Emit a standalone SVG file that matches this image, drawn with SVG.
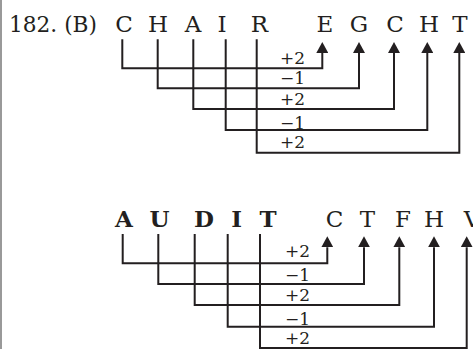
<svg xmlns="http://www.w3.org/2000/svg" width="473" height="349" viewBox="0 0 473 349">
<style>
.t{font-family:"DejaVu Serif","Liberation Serif",serif;font-size:23px;fill:#231f20}
.b{font-family:"DejaVu Serif","Liberation Serif",serif;font-size:23px;font-weight:bold;fill:#231f20}
.l{font-family:"DejaVu Serif","Liberation Serif",serif;font-size:17px;fill:#231f20}
.c{fill:none;stroke:#231f20;stroke-width:2;marker-end:url(#ah)}
</style>
<defs>
<marker id="ah" viewBox="0 0 11 12" refX="0" refY="6" markerWidth="11" markerHeight="12" markerUnits="userSpaceOnUse" orient="auto">
<path d="M0,0 L11,6 L0,12 z" fill="#231f20"/>
</marker>
</defs>
<rect width="473" height="349" fill="#fff"/>
<line x1="1" y1="0" x2="1" y2="349" stroke="#777" stroke-width="1.5"/>
<g id="heading"><text class="t" x="9" y="31.5" textLength="88" lengthAdjust="spacingAndGlyphs">182. (B)</text></g>
<g id="word1" class="t" text-anchor="middle">
<text x="124" y="32">C</text><text x="158" y="32">H</text><text x="193" y="32">A</text><text x="222" y="32">I</text><text x="259.5" y="32">R</text>
</g>
<g id="result1" class="t" text-anchor="middle">
<text x="325" y="32">E</text><text x="359" y="32">G</text><text x="395" y="32">C</text><text x="429" y="32">H</text><text x="460" y="32">T</text>
</g>
<g id="connectors1">
<path class="c" d="M122.3,39.3 V68.3 H322.3 V53"/>
<path class="c" d="M157.7,39.3 V88.3 H359 V53"/>
<path class="c" d="M193.3,39.3 V109 H394 V53"/>
<path class="c" d="M225.7,39.3 V130 H427.3 V53"/>
<path class="c" d="M256.7,39.3 V152.7 H459.3 V53"/>
</g>
<g id="labels1" class="l">
<text x="280" y="63.5">+2</text><text x="280" y="83.5">−1</text><text x="280" y="104.5">+2</text><text x="280" y="128.5">−1</text><text x="280" y="148">+2</text>
</g>
<g id="word2" class="b" text-anchor="middle">
<text x="124" y="227">A</text><text x="159.5" y="227">U</text><text x="204" y="227">D</text><text x="236.7" y="227">I</text><text x="268" y="227">T</text>
</g>
<g id="result2" class="t" text-anchor="middle">
<text x="334.5" y="227">C</text><text x="367.5" y="227">T</text><text x="403" y="227">F</text><text x="434" y="227">H</text><text x="472" y="227">V</text>
</g>
<g id="connectors2">
<path class="c" d="M122.7,234 V263.3 H327.3 V247.3"/>
<path class="c" d="M158.3,234 V284 H364 V247.3"/>
<path class="c" d="M194.7,234 V305 H399.3 V247.3"/>
<path class="c" d="M227.7,234 V326.7 H434 V247.3"/>
<path class="c" d="M260,234 V348 H466.7 V247.3"/>
</g>
<g id="labels2" class="l">
<text x="285" y="257.3">+2</text><text x="285" y="281">−1</text><text x="285" y="301">+2</text><text x="285" y="325">−1</text><text x="285" y="344">+2</text>
</g>
</svg>
